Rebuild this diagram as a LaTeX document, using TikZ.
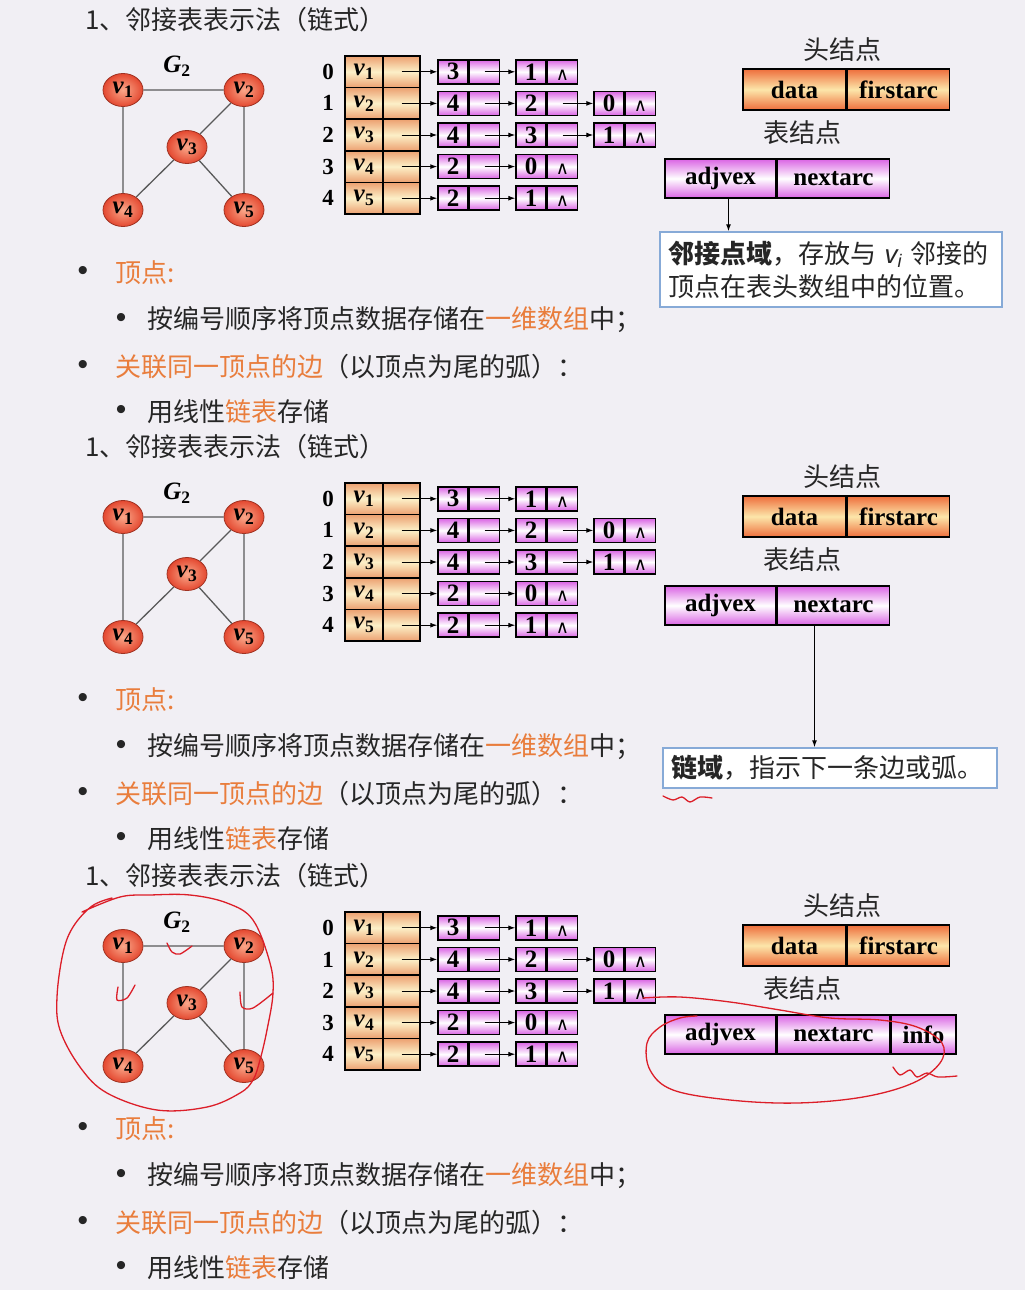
\documentclass[tikz,border=0pt]{standalone}
\usepackage{fontspec}
\usepackage{tikz}
\setmainfont{Liberation Serif}
\newfontfamily\cjk{Noto Sans CJK SC}
\newfontfamily\sansf{Liberation Sans}
\newfontfamily\symf{DejaVu Sans}
\usetikzlibrary{positioning, calc, shapes.geometric, arrows.meta}
\definecolor{bg}{RGB}{241,239,244}
\definecolor{hot}{RGB}{233,125,60}
\definecolor{vred}{RGB}{228,72,48}
\definecolor{vlight}{RGB}{250,168,138}
\definecolor{peach}{RGB}{236,160,112}
\definecolor{cream}{RGB}{252,240,200}
\definecolor{pinkedge}{RGB}{218,100,228}
\definecolor{hdark}{RGB}{238,110,60}
\definecolor{hlight}{RGB}{252,230,170}
\definecolor{noteblue}{RGB}{135,170,215}
\definecolor{pen}{RGB}{220,30,40}
\tikzstyle{Arrow} = [
%arrow between cells
line width=1pt,
-{Latex[length=7pt, width=5pt]}
]
\newcommand{\cn}{\cjk\fontsize{26}{33}\selectfont}
\newcommand{\vx}[1]{\textbf{\textit{v}}\textsubscript{\textbf{#1}}}
\newcommand{\adjpanel}[2]{%
	\begin{scope}[shift={(0,#2)}]
		\node[words](#1title) at (85,20){1、邻接表表示法（链式）};
		% graph G2
		\node[gname](#1G) at (177,66){\textbf{\textit{G}}\textsubscript{\textbf{2}}};
		\node[vertex](#1v1) at (123,90){\vx{1}};
		\node[vertex](#1v2) at (244,90){\vx{2}};
		\node[vertex](#1v3) at (187,147){\vx{3}};
		\node[vertex](#1v4) at (123,210){\vx{4}};
		\node[vertex](#1v5) at (244,210){\vx{5}};
		\draw[link](#1v1)--(#1v2) (#1v1)--(#1v4) (#1v2)--(#1v5) (#1v2)--(#1v3) (#1v3)--(#1v4) (#1v3)--(#1v5);
		% head array
		\foreach \i/\d in {0/1,1/2,2/3,3/4,4/5}{
			\node[num](#1n\i) at (328,{71.8+31.6*\i}){\i};
			\node[headcell, minimum width=38](#1h\i) at (364,{71.8+31.6*\i}){\vx{\d}};
			\node[headcell, minimum width=37](#1f\i) at (401.5,{71.8+31.6*\i}){};
		}
		% adjacency lists
		\foreach \i/\a/\b in {0/3/1,1/4/2,2/4/3,3/2/0,4/2/1}{
			\node[listcell](#1d\i-1) at (453,{71.8+31.6*\i}){\a};
			\node[listcell, right=0pt of #1d\i-1](#1p\i-1){};
			\node[listcell](#1d\i-2) at (531,{71.8+31.6*\i}){\b};
			\node[listcell, right=0pt of #1d\i-2](#1p\i-2){};
			\draw[Arrow](#1f\i.center)--(#1d\i-1);
			\draw[Arrow](#1p\i-1.center)--(#1d\i-2);
		}
		\foreach \i in {0,3,4}{
			\node[nil](#1nil\i) at ([yshift=-3pt]#1p\i-2){∧};
		}
		\foreach \i/\c in {1/0,2/1}{
			\node[listcell](#1d\i-3) at (609,{71.8+31.6*\i}){\c};
			\node[listcell, right=0pt of #1d\i-3](#1p\i-3){};
			\node[nil](#1nil\i) at ([yshift=-3pt]#1p\i-3){∧};
			\draw[Arrow](#1p\i-2.center)--(#1d\i-3);
		}
		% node formats
		\node[words, anchor=center](#1headtxt) at (842,50){头结点};
		\node[headbox, minimum width=103](#1data) at (794.5,89.5){data};
		\node[headbox, minimum width=102, right=0pt of #1data](#1first){firstarc};
		\node[words, anchor=center](#1tabtxt) at (802,133){表结点};
		\node[tabbox, minimum width=111](#1adj) at (720.5,178.5){adjvex};
		\node[tabbox, minimum width=112, right=0pt of #1adj](#1next){nextarc};
		% bullets
		\node[dot](#1b1) at (83,273){•};
		\node[words, text=hot](#1t1) at (115,273){顶点:};
		\node[dot](#1b2) at (121,320){•};
		\node[words](#1t2) at (147,320){按编号顺序将顶点数据存储在\textcolor{hot}{一维数组}中；};
		\node[dot](#1b3) at (83,367){•};
		\node[words](#1t3) at (115,367){\textcolor{hot}{关联同一顶点的边}（以顶点为尾的弧）：};
		\node[dot](#1b4) at (121,412){•};
		\node[words](#1t4) at (147,412){用线性\textcolor{hot}{链表}存储};
	\end{scope}
}

\begin{document}
\begin{tikzpicture}[x=1pt, y=-1pt,
		vertex/.style = {ellipse, draw=vred!70!black, line width=0.8pt, shading=radial, inner color=vlight, outer color=vred, minimum width=40, minimum height=33, inner sep=0pt, font=\fontsize{25}{25}\selectfont},
		link/.style = {draw=black!65, line width=1.3pt},
		gname/.style = {inner sep=0pt, font=\fontsize{25}{25}\selectfont},
		num/.style = {inner sep=0pt, font=\fontsize{23}{23}\selectfont\bfseries},
		headcell/.style = {rectangle, draw, line width=1.5pt, minimum height=31.6, inner sep=0pt, top color=peach, bottom color=peach, middle color=cream, font=\fontsize{25}{25}\selectfont},
		listcell/.style = {rectangle, draw, line width=1.5pt, minimum width=30, minimum height=24, inner sep=0pt, top color=pinkedge, bottom color=pinkedge, middle color=white, font=\fontsize{25}{25}\selectfont\bfseries},
		headbox/.style = {rectangle, draw, line width=1.5pt, minimum height=41, inner sep=0pt, top color=hdark, bottom color=hdark, middle color=hlight, font=\fontsize{25}{25}\selectfont\bfseries},
		tabbox/.style = {rectangle, draw, line width=1.5pt, minimum height=39, inner sep=0pt, top color=pinkedge, bottom color=pinkedge, middle color=white, font=\fontsize{25}{25}\selectfont\bfseries},
		note/.style = {rectangle, draw=noteblue, line width=1.5pt, fill=white, inner sep=7pt, align=left, font=\cn, text=black!85},
		words/.style = {anchor=west, inner sep=0pt, font=\cn, text=black!85},
		dot/.style = {inner sep=0pt, font=\sansf\fontsize{30}{30}\selectfont, text=black!85},
		nil/.style = {inner sep=0pt, font=\symf\fontsize{18}{18}\selectfont},
		pen/.style = {draw=pen, line width=1.3pt, line cap=round, line join=round},
	]
	\fill[bg](0,0) rectangle (1025,1290);

	\adjpanel{a}{0}
	\adjpanel{b}{427}
	\adjpanel{c}{856}

	% adjvex field
	\node[note, minimum width=342, minimum height=75, text width=326](anote) at (831,269.5){\textbf{邻接点域}，存放与 {\sansf\itshape v}\textsubscript{\sansf\itshape i} 邻接的\\顶点在表头数组中的位置。};
	\coordinate(aknot) at ([xshift=8pt]aadj.south);
	\draw[Arrow](aknot)--(aknot |- anote.north);

	% nextarc field
	\node[note, minimum width=334, minimum height=40, text width=318](bnote) at (830,768){\textbf{链域}，指示下一条边或弧。};
	\coordinate(bknot) at ([xshift=-19pt]bnext.south);
	\draw[Arrow](bknot)--(bknot |- bnote.north);
	\draw[pen] plot[smooth] coordinates {(663,796) (673,800) (682,797) (690,802) (700,797) (712,798)};

	% info field
	\node[tabbox, minimum width=65, right=0pt of cnext](cinfo){info};
	\draw[pen] plot[smooth, tension=0.6] coordinates {(82,912) (120,897) (150,895) (190,895) (227,903) (253,920) (270,963) (273,993) (267,1030) (260,1060) (253,1080) (240,1093) (207,1107) (157,1110) (107,1093) (80,1067) (60,1030) (57,997) (63,953) (73,927) (92,906) (112,898)};
	\draw[pen] plot[smooth] coordinates {(167,943) (172,952) (180,954) (192,946)};
	\draw[pen] plot[smooth] coordinates {(118,987) (117,1000) (127,998) (135,985)};
	\draw[pen] plot[smooth] coordinates {(240,992) (242,1007) (253,1008) (273,993)};
	\draw[pen] plot[smooth, tension=0.6] coordinates {(643,998) (680,997) (730,1002) (780,1010) (830,1018) (880,1020) (917,1027) (942,1043) (940,1063) (913,1083) (863,1097) (797,1103) (730,1100) (673,1090) (650,1070) (647,1043) (660,1027) (680,1018) (697,1016)};
	\draw[pen] plot[smooth] coordinates {(893,1067) (900,1075) (910,1070) (917,1077) (927,1073) (938,1077) (957,1076)};

\end{tikzpicture}
\end{document}
